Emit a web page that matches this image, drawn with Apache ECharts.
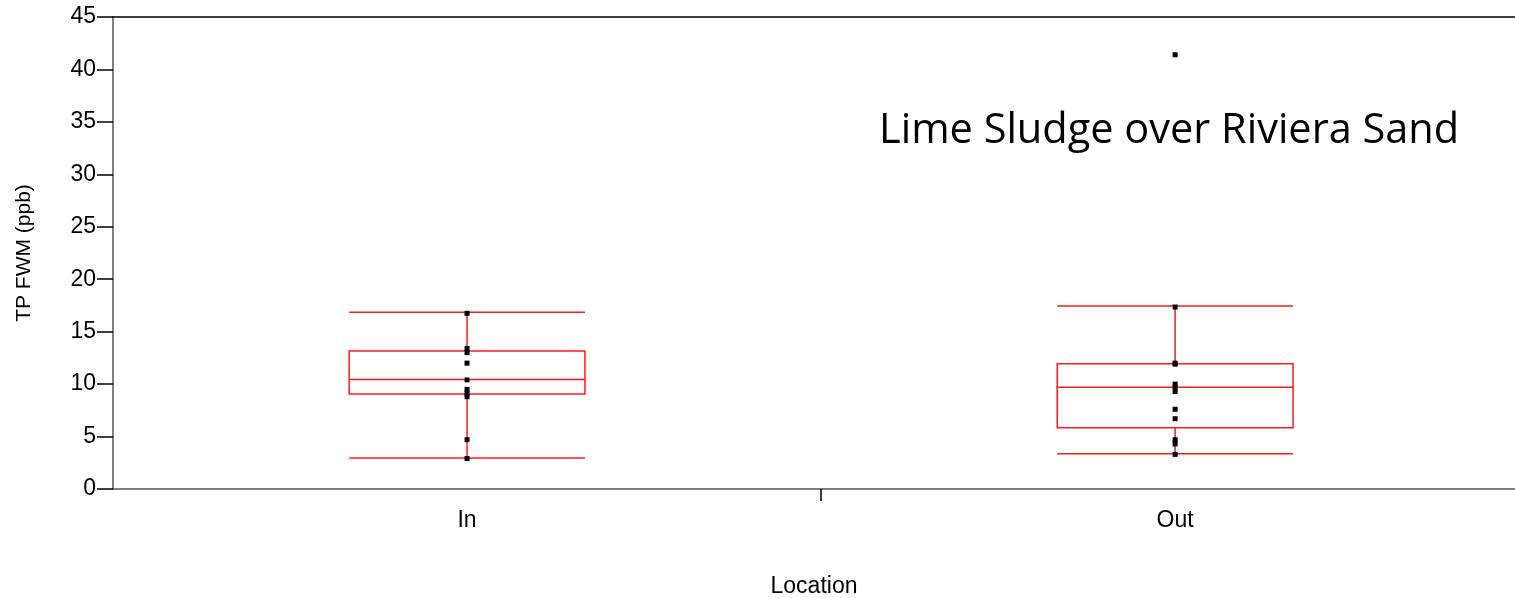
<!DOCTYPE html>
<html>
<head>
<meta charset="utf-8">
<script src="https://cdn.jsdelivr.net/npm/echarts@6/dist/echarts.min.js"></script>
<style>html,body{margin:0;padding:0;background:#fff;}#c{width:1515px;height:598px;}</style>
</head>
<body>
<div id="c"></div>
<script>
var categories = ['In', 'Out'];
var yTicks = [0, 5, 10, 15, 20, 25, 30, 35, 40, 45];
// [low whisker, q1, median, q3, high whisker]
var boxIn = [2.95, 9.05, 10.45, 13.15, 16.85];
var boxOut = [3.35, 5.85, 9.7, 11.95, 17.45];
var pointsIn = [16.75, 13.4, 13.0, 12.0, 10.4, 9.5, 9.1, 8.8, 4.7, 2.9];
var pointsOut = [41.4, 17.35, 12.0, 11.9, 10.0, 9.7, 9.3, 7.6, 6.7, 4.7, 4.3, 3.3];
var annotation = 'Lime Sludge over Riviera Sand';

var boxes = [boxIn, boxOut];
var boxData = boxes.map(function (b, i) { return [i].concat(b); });
var scatterData = [];
pointsIn.forEach(function (v) { scatterData.push([0, v]); });
pointsOut.forEach(function (v) { scatterData.push([1, v]); });

var RED = '#ff1a1a';
var chart = echarts.init(document.getElementById('c'));
chart.setOption({
  animation: false,
  grid: { left: 113, top: 17, bottom: 109, right: 0, containLabel: false, outerBoundsMode: 'none' },
  xAxis: [{
    type: 'value', min: -0.5, max: 1.48,
    name: 'Location', nameLocation: 'middle', nameGap: 86,
    nameTextStyle: { fontFamily: 'Liberation Sans', fontSize: 23, color: '#000' },
    axisLine: { show: true, onZero: false, lineStyle: { color: '#555', width: 1.5 } },
    axisTick: { show: true, customValues: [0.5], length: 12, lineStyle: { color: '#000', width: 1.5 } },
    axisLabel: { customValues: [0, 1], fontFamily: 'Liberation Sans', fontSize: 23, color: '#000', margin: 20,
      formatter: function (v) { return categories[Math.round(v)]; } },
    splitLine: { show: false }
  }, {
    type: 'value', min: -0.5, max: 1.48, position: 'top',
    axisLine: { show: true, onZero: false, lineStyle: { color: '#000', width: 1.5 } },
    axisTick: { show: false }, axisLabel: { show: false }, splitLine: { show: false }
  }],
  yAxis: {
    type: 'value', min: 0, max: 45, interval: 5,
    name: 'TP FWM (ppb)', nameLocation: 'middle', nameGap: 78, nameRotate: 90,
    nameTextStyle: { fontFamily: 'Liberation Sans', fontSize: 21, color: '#000' },
    axisLine: { show: true, onZero: false, lineStyle: { color: '#555', width: 1.5 } },
    axisTick: { show: true, length: 16, lineStyle: { color: '#000', width: 1.5 } },
    axisLabel: { fontFamily: 'Liberation Sans', fontSize: 23, color: '#000', margin: 17,
      formatter: function (v) { return yTicks.indexOf(v) >= 0 ? String(v) : ''; } },
    splitLine: { show: false }
  },
  series: [{
    type: 'custom',
    data: boxData,
    renderItem: function (params, api) {
      var c = api.value(0);
      var cx = api.coord([c, 0])[0];
      var w = api.size([1, 0])[0] * 0.333;
      var x0 = cx - w / 2, x1 = cx + w / 2;
      var yl = api.coord([c, api.value(1)])[1];
      var yq1 = api.coord([c, api.value(2)])[1];
      var ym = api.coord([c, api.value(3)])[1];
      var yq3 = api.coord([c, api.value(4)])[1];
      var yh = api.coord([c, api.value(5)])[1];
      var st = { stroke: RED, lineWidth: 1.5, fill: null };
      return { type: 'group', children: [
        { type: 'rect', shape: { x: x0, y: yq3, width: w, height: yq1 - yq3 }, style: st },
        { type: 'line', shape: { x1: x0, y1: ym, x2: x1, y2: ym }, style: st },
        { type: 'line', shape: { x1: x0, y1: yh, x2: x1, y2: yh }, style: st },
        { type: 'line', shape: { x1: x0, y1: yl, x2: x1, y2: yl }, style: st },
        { type: 'line', shape: { x1: cx, y1: yh, x2: cx, y2: yq3 }, style: st },
        { type: 'line', shape: { x1: cx, y1: yq1, x2: cx, y2: yl }, style: st }
      ]};
    },
    z: 2
  }, {
    type: 'scatter', data: scatterData, symbol: 'rect', symbolSize: 5,
    itemStyle: { color: '#000', opacity: 1 }, z: 3
  }],
  graphic: [{
    type: 'text', left: 879, top: 110,
    style: { text: annotation, fontFamily: 'Open Sans', fontSize: 41.5, fill: '#000' }
  }]
});
</script>
</body>
</html>
